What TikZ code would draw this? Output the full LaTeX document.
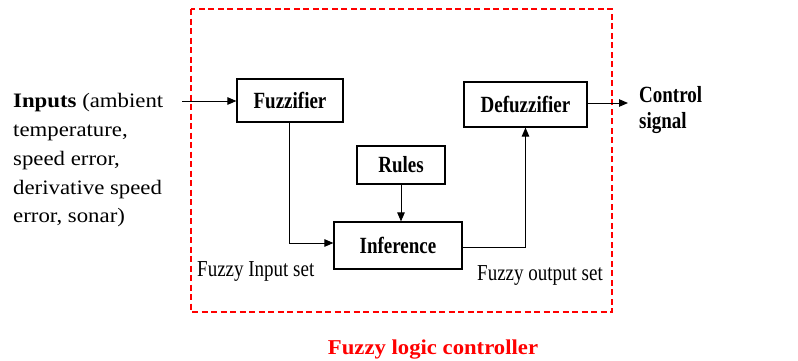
\documentclass[tikz,border=0pt]{standalone}
\usepackage{fontspec}
\usepackage{graphicx}
\setmainfont{Liberation Serif}
\usetikzlibrary{arrows.meta}
\definecolor{fred}{RGB}{255,0,0}
\newcommand{\vstretch}[2]{\scalebox{1}[#1]{#2}}
\tikzset{
  blk/.style={draw, line width=1.2pt, inner sep=0pt, font=\fontsize{19}{22}\selectfont\bfseries},
  conn/.style={line width=1pt, -{Triangle[length=9pt,width=7.5pt]}},
  lbl/.style={inner sep=0pt, anchor=base west, font=\fontsize{19}{22}\selectfont},
}
\begin{document}
\begin{tikzpicture}[x=1pt,y=-1pt]
\useasboundingbox (0,0) rectangle (798,360);
% controller frame
\draw[fred, line width=2pt, dash pattern=on 6pt off 3.5pt] (191,9) rectangle (612,312);
\node[fred, font=\fontsize{22.7}{26}\selectfont\bfseries, inner sep=0pt, anchor=base] (title) at (433,354) {\vstretch{0.93}{Fuzzy logic controller}};
% blocks
\node[blk, minimum width=106pt, minimum height=43pt] (fuzz) at (290,100.5) {\vstretch{1.22}{Fuzzifier}};
\node[blk, minimum width=123pt, minimum height=45pt] (defuzz) at (525.5,104.5) {\vstretch{1.22}{Defuzzifier}};
\node[blk, minimum width=88pt, minimum height=38pt] (rules) at (401,165) {\vstretch{1.22}{Rules}};
\node[blk, minimum width=128pt, minimum height=47pt] (inf) at (398,245.5) {\vstretch{1.22}{Inference}};
% texts
\node[inner sep=0pt, anchor=base west, font=\fontsize{22.8}{31.9}\selectfont] (inputs) at (13,222.8)
  {\vstretch{0.9}{\begin{tabular}[b]{@{}l@{}}\textbf{Inputs} (ambient\\temperature,\\speed error,\\derivative speed\\error, sonar)\end{tabular}}};
\node[inner sep=0pt, anchor=base west, font=\fontsize{19}{20.5}\selectfont\bfseries] (ctrl) at (639,128)
  {\vstretch{1.22}{\begin{tabular}[b]{@{}l@{}}Control\\signal\end{tabular}}};
\node[lbl] (fin) at (197,276) {\vstretch{1.2}{Fuzzy Input set}};
\node[lbl] (fout) at (477,280) {\vstretch{1.2}{Fuzzy output set}};
% connectors
\coordinate (inp) at (182,101);
\coordinate (outp) at (628,103);
\draw[conn] (inp) -- (fuzz.west |- inp);
\draw[conn] (fuzz.south -| 289,0) |- ([yshift=2.5pt]inf.west);
\draw[conn] (rules.south) -- (rules.south |- inf.north);
\draw[conn] ([yshift=-1.5pt]inf.east) -| (defuzz.south);
\draw[conn] (defuzz.east |- outp) -- (outp);
\end{tikzpicture}
\end{document}
